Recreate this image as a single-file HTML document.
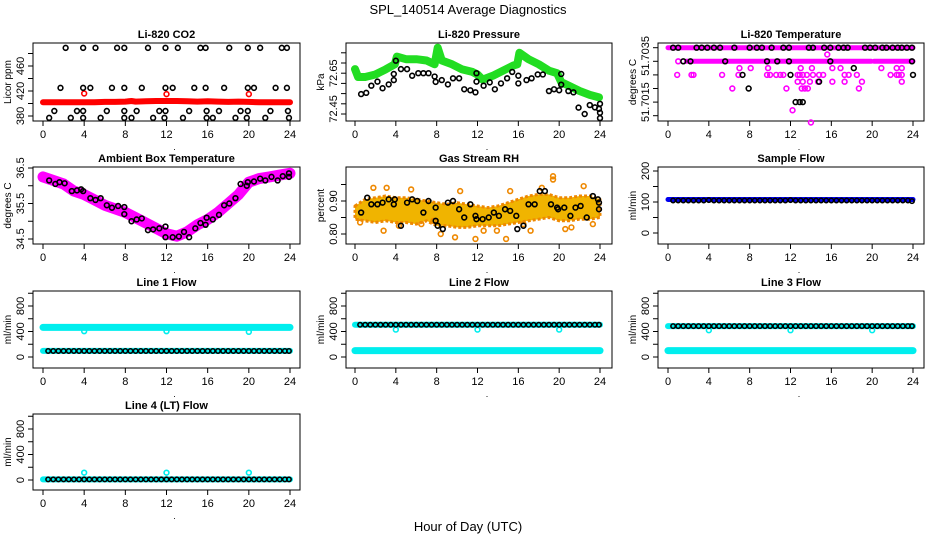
<!DOCTYPE html>
<html><head><meta charset="utf-8"><title>SPL_140514 Average Diagnostics</title>
<style>
html,body{margin:0;padding:0;background:#fff;}
svg{display:block;font-family:"Liberation Sans",Arial,sans-serif;}
</style></head>
<body>
<svg id="chart" width="936" height="540" viewBox="0 0 936 540" xmlns="http://www.w3.org/2000/svg">
<text x="468" y="14" font-size="13" text-anchor="middle">SPL_140514  Average Diagnostics</text>
<text x="468" y="531" font-size="13" text-anchor="middle">Hour of Day (UTC)</text>
</svg>
<script>
// ---------- data ----------
const xTicks = [0,4,8,12,16,20,24];
const flowHours = [0.5,1.0,1.5,2.0,2.5,3.0,3.5,4.0,4.5,5.0,5.5,6.0,6.5,7.0,7.5,8.0,8.5,9.0,9.5,10.0,10.5,11.0,11.5,12.0,12.5,13.0,13.5,14.0,14.5,15.0,15.5,16.0,16.5,17.0,17.5,18.0,18.5,19.0,19.5,20.0,20.5,21.0,21.5,22.0,22.5,23.0,23.5,23.9];
const outlierHours = [4,12,20];

// CO2
const co2BlackHours = [2.2,3.9,5.1,7.2,7.9,10.2,11.9,13.1,15.3,15.8,18.1,19.9,21.1,23.2,23.7, 1.7,3.9,4.6,6.7,7.9,9.6,11.9,12.6,14.7,15.8,17.6,19.9,20.5,22.6,23.7, 1.1,3.3,3.9,6.2,7.9,9.1,11.3,11.9,14.2,15.9,17.1,19.2,19.9,22.1,23.8, 0.6,2.7,3.9,5.6,7.9,8.6,10.7,11.8,13.6,15.9,16.5,18.7,19.8,21.6,23.9];
const co2BlackVals = [489,489,489,489,489,489,489,489,489,489,489,489,489,489,489, 425,425,425,425,425,425,425,425,425,425,425,425,425,425,425, 388,388,388,388,388,388,388,388,388,388,388,388,388,388,388, 377,377,377,377,377,377,377,377,377,377,377,377,377,377,377];
const co2RedHours = [0,1,2,3,4,5,6,7,8,8.6,9,10,11,12,13,14,15,16,17,18,19,20,21,22,23,24];
const co2RedVals = [402,402,402,402,402,402,402.5,402.5,403,404,403,403.5,404,404,404,403.5,403,403.5,403,402.5,403,402.5,402,402,402,402];
const co2RedOutVals = [416,415,415];

// Pressure
const presGreenHours = [0,0.3,1,2,3,3.9,4.1,5,6,7,7.8,8.1,8.5,9.5,10.5,11.5,12,12.5,13.5,14.5,15.5,15.9,16.1,17,18,19,19.8,20.2,21,22,23,23.9];
const presGreenVals = [72.626,72.595,72.595,72.605,72.625,72.645,72.675,72.665,72.665,72.66,72.645,72.71,72.66,72.645,72.625,72.615,72.605,72.585,72.6,72.62,72.64,72.645,72.69,72.665,72.645,72.62,72.61,72.575,72.56,72.54,72.525,72.515];
const presBlackHours = [0.6,1.1,1.6,2.2,2.7,3.3,3.8,3.8,4.0,4.5,5.1,5.6,6.2,6.7,7.2,7.8,7.9,8.5,9.1,9.6,10.2,10.7,11.3,11.8,11.9,11.9,12.6,13.2,13.7,14.3,14.9,15.4,16.0,16.0,16.8,17.3,17.9,18.4,19.0,19.5,20.0,20.2,20.2,20.9,21.4,21.9,22.5,23.0,23.5,23.9,24.0,24.0,24.0];
const presBlackVals = [72.528,72.533,72.561,72.577,72.551,72.566,72.583,72.607,72.659,72.626,72.626,72.6,72.61,72.61,72.61,72.597,72.576,72.583,72.566,72.59,72.59,72.547,72.543,72.535,72.577,72.61,72.561,72.574,72.547,72.57,72.59,72.615,72.6,72.57,72.583,72.59,72.605,72.605,72.54,72.547,72.543,72.565,72.607,72.54,72.535,72.475,72.45,72.485,72.476,72.47,72.49,72.455,72.434];

// Li-820 Temperature
const tempBandStart = [0,1.8,20.2];
const tempBandEnd = [24,19.9,24];
const tempBandVals = [51.7035,51.703,51.703];
const tempPinkHours = [0.9,2.3,2.5,5.3,6.9,9.7,10,10.6,11,11.3,12.7,12.9,13.2,13.6,14.2,14.8,15.2,17.3,17.7,18.5,21.8,22.4,22.6,22.9, 7.0,8.1,9.8,13.0,14.1,16.1,16.9,20.9,22.4,22.9, 12.7,13.2,13.9,14.7,16.1,17.3,19.0,22.9, 6.3,11.6,13.1,13.4,13.7,18.7, 12.2,14.0,15.6,1.0];
const tempPinkVals = [51.7025,51.7025,51.7025,51.7025,51.7025,51.7025,51.7025,51.7025,51.7025,51.7025,51.7025,51.7025,51.7025,51.7025,51.7025,51.7025,51.7025,51.7025,51.7025,51.7025,51.7025,51.7025,51.7025,51.7025, 51.70275,51.70275,51.70275,51.70275,51.70275,51.70275,51.70275,51.70275,51.70275,51.70275, 51.70225,51.70225,51.70225,51.70225,51.70225,51.70225,51.70225,51.70225, 51.702,51.702,51.702,51.702,51.702,51.702, 51.7012,51.70075,51.70325,51.703];
const tempBlackHours = [0.5,1.0,2.8,3.3,3.85,4.5,5.1,6.5,8.0,8.7,9.2,10.15,11.3,11.85,13.8,14.2,15.3,15.9,16.7,17.2,17.6,19.3,19.8,20.3,21.0,21.4,22.0,22.5,22.9,23.4,23.9, 1.5,2.2,5.6,9.7,10.7,11.85,15.9,23.9, 7.3,12.0,24.0, 18.2,14.8,7.9,12.5,12.9,13.2];
const tempBlackVals = [51.7035,51.7035,51.7035,51.7035,51.7035,51.7035,51.7035,51.7035,51.7035,51.7035,51.7035,51.7035,51.7035,51.7035,51.7035,51.7035,51.7035,51.7035,51.7035,51.7035,51.7035,51.7035,51.7035,51.7035,51.7035,51.7035,51.7035,51.7035,51.7035,51.7035,51.7035, 51.703,51.703,51.703,51.703,51.703,51.703,51.703,51.703, 51.7025,51.7025,51.7025, 51.70275,51.70225,51.702,51.7015,51.7015,51.7015];

// Ambient box temperature
const ambPinkHours = [0,1,2,3,4,5,6,7,8,9,10,11,12,13,14,15,16,17,18,19,20,21,22,23,24];
const ambPinkVals = [36.25,36.15,36.05,35.85,35.75,35.6,35.45,35.35,35.25,35.1,34.95,34.8,34.65,34.58,34.7,34.9,35.05,35.25,35.5,35.75,36.1,36.2,36.25,36.3,36.35];
const ambBlackHours = [0.6,1.2,1.6,2.1,2.8,3.3,3.7,3.9,4.6,5.1,5.6,6.2,6.7,7.3,7.9,7.9,8.6,9.1,9.6,10.2,10.7,11.3,11.9,11.9,12.6,13.2,13.7,14.2,14.8,15.3,15.8,15.9,16.5,17.1,17.6,18.1,18.7,19.2,19.8,19.9,20.5,21.1,21.6,22.2,22.8,23.3,23.9,23.9];
const ambBlackVals = [36.15,36.05,36.1,36.07,35.85,35.87,35.9,35.85,35.65,35.6,35.65,35.45,35.38,35.43,35.4,35.2,35.0,35.05,35.08,34.75,34.77,34.8,34.85,34.55,34.55,34.57,34.7,34.55,34.8,34.95,34.9,35.1,35.05,35.18,35.45,35.5,35.65,36.05,36.0,36.1,36.12,36.2,36.15,36.25,36.15,36.27,36.35,36.25];

// Gas stream RH
const rhHours = [0,1,2,3,4,5,6,7,8,9,10,11,12,13,14,15,16,17,18,19,20,21,22,23,24];
const rhLow = [0.845,0.84,0.835,0.84,0.835,0.835,0.83,0.84,0.825,0.825,0.82,0.82,0.825,0.825,0.825,0.83,0.835,0.84,0.845,0.85,0.84,0.84,0.845,0.845,0.85];
const rhHigh = [0.885,0.905,0.91,0.915,0.91,0.91,0.905,0.9,0.895,0.89,0.895,0.89,0.885,0.88,0.885,0.895,0.905,0.915,0.92,0.92,0.91,0.91,0.915,0.915,0.905];
const rhScatHours = [0.5,1.8,2.8,3.1,4.3,5.5,6.5,7.7,8.4,9.8,10.3,11.8,12.6,13.9,14.8,15.2,16.5,17.2,18.3,19.4,19.4,20.6,21.2,22.4,23.3];
const rhScatVals = [0.835,0.94,0.81,0.94,0.825,0.935,0.83,0.84,0.80,0.79,0.93,0.785,0.81,0.81,0.785,0.93,0.83,0.81,0.94,0.975,0.965,0.815,0.82,0.945,0.83];
const rhBlackHours = [0.6,1.2,1.6,2.2,2.7,3.3,3.8,3.9,4.5,5.1,5.6,6.1,6.7,7.2,7.9,7.9,8.1,8.6,9.1,9.6,10.2,10.7,11.3,11.8,11.9,12.5,13.1,13.6,14.1,14.7,15.2,15.8,15.9,16.5,17.0,17.6,18.1,18.6,19.2,19.8,19.9,20.5,21.1,21.6,22.1,22.7,23.3,23.8,23.9,23.9];
const rhBlackVals = [0.865,0.91,0.89,0.89,0.895,0.905,0.89,0.905,0.825,0.895,0.905,0.90,0.865,0.90,0.88,0.84,0.825,0.815,0.895,0.90,0.875,0.85,0.89,0.855,0.845,0.845,0.85,0.865,0.855,0.875,0.87,0.855,0.815,0.825,0.89,0.89,0.93,0.93,0.89,0.88,0.875,0.88,0.855,0.88,0.885,0.85,0.915,0.905,0.895,0.875];

// Flows (ml/min)
const sampleBandVal = 108;
const sampleBlack = [105,105,105,105,105,105,105,106,105,105,105,105,105,105,105,105,105,105,105,105,105,105,105,106,105,105,105,105,105,105,105,105,105,105,105,105,105,105,105,105,105,105,105,105,105,105,105,103];
const line1HighBand = 465;
const line1Low = [95,95,95,95,95,95,95,95,95,95,95,95,95,95,95,95,95,95,95,95,95,95,95,95,95,95,95,95,95,95,95,95,95,95,95,95,95,95,95,95,95,95,95,95,95,95,95,95];
const line1Out = [405,405,395];
const line2LowBand = 100;
const line2High = [505,505,505,505,505,505,505,505,505,505,505,505,505,505,505,505,505,505,505,505,505,505,505,505,505,505,505,505,505,505,505,505,505,505,505,505,505,505,505,505,505,505,505,505,505,505,505,505];
const line2Out = [430,430,430];
const line3LowBand = 100;
const line3High = [485,485,485,485,485,485,485,485,485,485,485,485,485,485,485,485,485,485,485,485,485,485,485,485,485,485,485,485,485,485,485,485,485,485,485,485,485,485,485,485,485,485,485,485,485,485,485,485];
const line3Out = [420,420,420];
const line4Vals = [10,10,10,10,10,10,10,10,10,10,10,10,10,10,10,10,10,10,10,10,10,10,10,10,10,10,10,10,10,10,10,10,10,10,10,10,10,10,10,10,10,10,10,10,10,10,10,10];
const line4Out = [115,115,115];

// ---------- drawing ----------
const NS = 'http://www.w3.org/2000/svg';
const svg = document.getElementById('chart');
function mk(tag, parent, attrs){
  const e = document.createElementNS(NS, tag);
  for (const k in attrs) e.setAttribute(k, attrs[k]);
  parent.appendChild(e);
  return e;
}
function lin(v1,p1,v2,p2){ return v => p1 + (v - v1) * (p2 - p1) / (v2 - v1); }

const cols = [{l:33,r:300,x0:43,x24:290},{l:346,r:612,x0:355,x24:600},{l:658,r:924,x0:668,x24:913}];
const rows = [{t:43,b:121},{t:167,b:244},{t:291,b:368},{t:414,b:490}];

function panel(name, title, ylab, col, row, yScale, yTicks, yLabels){
  const c = cols[col], r = rows[row];
  const g = mk('g', svg, {});
  
  
  const xs = lin(0, c.x0, 24, c.x24);
  const t = mk('text', g, {x:(c.l+c.r)/2, y:r.t-5, 'font-size':11, 'font-weight':'bold', 'text-anchor':'middle'});
  t.textContent = title;
  
  
  const yl = mk('text', g, {x:0, y:0, 'font-size':10, 'text-anchor':'middle', transform:`translate(${c.l-22},${(r.t+r.b)/2}) rotate(-90)`});
  yl.textContent = ylab;
  
  
  const xa = mk('g', g, {stroke:'#000','stroke-width':1});
  
  
  mk('line', xa, {x1:xs(0), x2:xs(24), y1:r.b, y2:r.b});
  xTicks.forEach(v => {
    mk('line', xa, {x1:xs(v), x2:xs(v), y1:r.b, y2:r.b+5});
    const tl = mk('text', g, {x:xs(v), y:r.b+17, 'font-size':11, 'text-anchor':'middle'});
    tl.textContent = v;
    
    
  });
  const dot = mk('text', g, {x:(c.l+c.r)/2+8, y:r.b+29, 'font-size':9, 'text-anchor':'middle'});
  dot.textContent = '.';
  const ya = mk('g', g, {stroke:'#000','stroke-width':1});
  
  
  const tp = yTicks.map(yScale);
  mk('line', ya, {x1:c.l, x2:c.l, y1:Math.max(...tp), y2:Math.min(...tp)});
  tp.forEach(p => mk('line', ya, {x1:c.l-5, x2:c.l, y1:p, y2:p}));
  yLabels.forEach(([v, txt]) => {
    const p = yScale(v);
    const lb = mk('text', g, {x:0, y:0, 'font-size':11, 'text-anchor':'middle', transform:`translate(${c.l-9},${p}) rotate(-90)`});
    lb.textContent = txt;
    
    
  });
  const box = mk('rect', g, {x:c.l, y:r.t, width:c.r-c.l, height:r.b-r.t, fill:'none', stroke:'#000', 'stroke-width':1});
  
  
  const clipG = mk('g', g, {});
  return {g:clipG, xs, ys:yScale};
}
function pts(P, name, hours, vals, color, r){
  const gg = mk('g', P.g, {fill:'none', stroke:color, 'stroke-width':1.6});
  
  
  hours.forEach((h,i) => {
    const c = mk('circle', gg, {cx:P.xs(h), cy:P.ys(vals[i]), r:r||2.4});
    
    
  });
}
function band(P, name, hours, vals, color, w){
  const d = hours.map((h,i) => (i?'L':'M') + P.xs(h).toFixed(1) + ' ' + P.ys(vals[i]).toFixed(1)).join(' ');
  const p = mk('path', P.g, {d, fill:'none', stroke:color, 'stroke-width':w, 'stroke-linecap':'round', 'stroke-linejoin':'round'});
  
  
}

// 1 CO2
let P = panel('co2', 'Li-820 CO2', 'Licor ppm', 0, 0, lin(380,116,460,66), [380,400,420,440,460,480], [[380,'380'],[420,'420'],[460,'460']]);
band(P, 'co2-red-series', co2RedHours, co2RedVals, '#ff0000', 6);
pts(P, 'co2-red-outliers', outlierHours, co2RedOutVals, '#ff0000');
pts(P, 'co2-black-series', co2BlackHours, co2BlackVals, '#000');

// 2 Pressure
P = panel('pressure', 'Li-820 Pressure', 'kPa', 1, 0, lin(72.45,114,72.65,63), [72.45,72.49,72.53,72.57,72.61,72.65,72.69], [[72.61,'72.65'],[72.47,'72.45']]);
band(P, 'pressure-green-series', presGreenHours, presGreenVals, '#22dd22', 8);
pts(P, 'pressure-green-peaks', [0,4.1,8.1,16.1], [72.626,72.675,72.71,72.69], '#22dd22');
pts(P, 'pressure-black-series', presBlackHours, presBlackVals, '#000');

// 3 Li-820 temperature
P = panel('li820-temp', 'Li-820 Temperature', 'degrees C', 2, 0, lin(51.7035,47.7,51.701,115.7), [51.7035,51.703,51.7025,51.702,51.7015,51.701], [[51.7032,'51.7035'],[51.7015,'51.7015']]);
tempBandStart.forEach((s,i) => band(P, 'li820-temp-pink-band', [s, tempBandEnd[i]], [tempBandVals[i], tempBandVals[i]], '#ff00ff', 5));
pts(P, 'li820-temp-pink-points', tempPinkHours, tempPinkVals, '#ff00ff');
pts(P, 'li820-temp-black-points', tempBlackHours, tempBlackVals, '#000');

// 4 Ambient
P = panel('ambient-temp', 'Ambient Box Temperature', 'degrees C', 0, 1, lin(34.5,239,36.5,168), [34.5,35,35.5,36,36.5], [[34.5,'34.5'],[35.5,'35.5'],[36.5,'36.5']]);
band(P, 'ambient-pink-series', ambPinkHours, ambPinkVals, '#ff00ff', 11);
pts(P, 'ambient-black-series', ambBlackHours, ambBlackVals, '#000');

// 5 RH
P = panel('rh', 'Gas Stream RH', 'percent', 1, 1, lin(0.8,234,0.9,201), [0.8,0.85,0.9,0.95], [[0.8,'0.80'],[0.9,'0.90']]);
{
  const up = rhHours.map((h,i) => P.xs(h).toFixed(1)+','+P.ys(rhHigh[i]).toFixed(1));
  const dn = rhHours.map((h,i) => P.xs(h).toFixed(1)+','+P.ys(rhLow[i]).toFixed(1)).reverse();
  const poly = mk('polygon', P.g, {points: up.concat(dn).join(' '), fill:'#f0b400', stroke:'#ee8800', 'stroke-width':3, 'stroke-linejoin':'round', 'stroke-dasharray':'3 2'});
  
  
}
pts(P, 'rh-orange-scatter', rhScatHours, rhScatVals, '#ee8800');
pts(P, 'rh-black-series', rhBlackHours, rhBlackVals, '#000');

// 6 Sample flow
P = panel('sample-flow', 'Sample Flow', 'ml/min', 2, 1, lin(0,233,200,171), [0,50,100,150,200], [[0,'0'],[100,'100'],[200,'200']]);
band(P, 'sample-blue-band', [0,24], [sampleBandVal,sampleBandVal], '#0000ee', 5);
pts(P, 'sample-black-series', flowHours, sampleBlack, '#000', 2.2);

// 7 Line 1
const flowTicks = [0,200,400,600,800,1000];
const flowLabels = [[0,'0'],[400,'400'],[800,'800']];
P = panel('line1-flow', 'Line 1 Flow', 'ml/min', 0, 2, lin(0,357,800,306), flowTicks, flowLabels);
band(P, 'line1-cyan-high-band', [0,24], [line1HighBand,line1HighBand], '#00eeee', 7);
band(P, 'line1-cyan-low-band', [0,24], [line1Low[0],line1Low[0]], '#00eeee', 6);
pts(P, 'line1-cyan-outliers', outlierHours, line1Out, '#00eeee');
pts(P, 'line1-black-series', flowHours, line1Low, '#000', 2.2);

// 8 Line 2
P = panel('line2-flow', 'Line 2 Flow', 'ml/min', 1, 2, lin(0,357,800,306), flowTicks, flowLabels);
band(P, 'line2-cyan-low-band', [0,24], [line2LowBand,line2LowBand], '#00eeee', 7);
band(P, 'line2-cyan-high-band', [0,24], [line2High[0],line2High[0]], '#00eeee', 6);
pts(P, 'line2-cyan-outliers', outlierHours, line2Out, '#00eeee');
pts(P, 'line2-black-series', flowHours, line2High, '#000', 2.2);

// 9 Line 3
P = panel('line3-flow', 'Line 3 Flow', 'ml/min', 2, 2, lin(0,357,800,306), flowTicks, flowLabels);
band(P, 'line3-cyan-low-band', [0,24], [line3LowBand,line3LowBand], '#00eeee', 7);
band(P, 'line3-cyan-high-band', [0,24], [line3High[0],line3High[0]], '#00eeee', 6);
pts(P, 'line3-cyan-outliers', outlierHours, line3Out, '#00eeee');
pts(P, 'line3-black-series', flowHours, line3High, '#000', 2.2);

// 10 Line 4
P = panel('line4-flow', 'Line 4 (LT) Flow', 'ml/min', 0, 3, lin(0,480,800,429), flowTicks, flowLabels);
band(P, 'line4-cyan-band', [0,24], [line4Vals[0],line4Vals[0]], '#00eeee', 6);
pts(P, 'line4-cyan-outliers', outlierHours, line4Out, '#00eeee');
pts(P, 'line4-black-series', flowHours, line4Vals, '#000', 2.2);
</script>
</body></html>
